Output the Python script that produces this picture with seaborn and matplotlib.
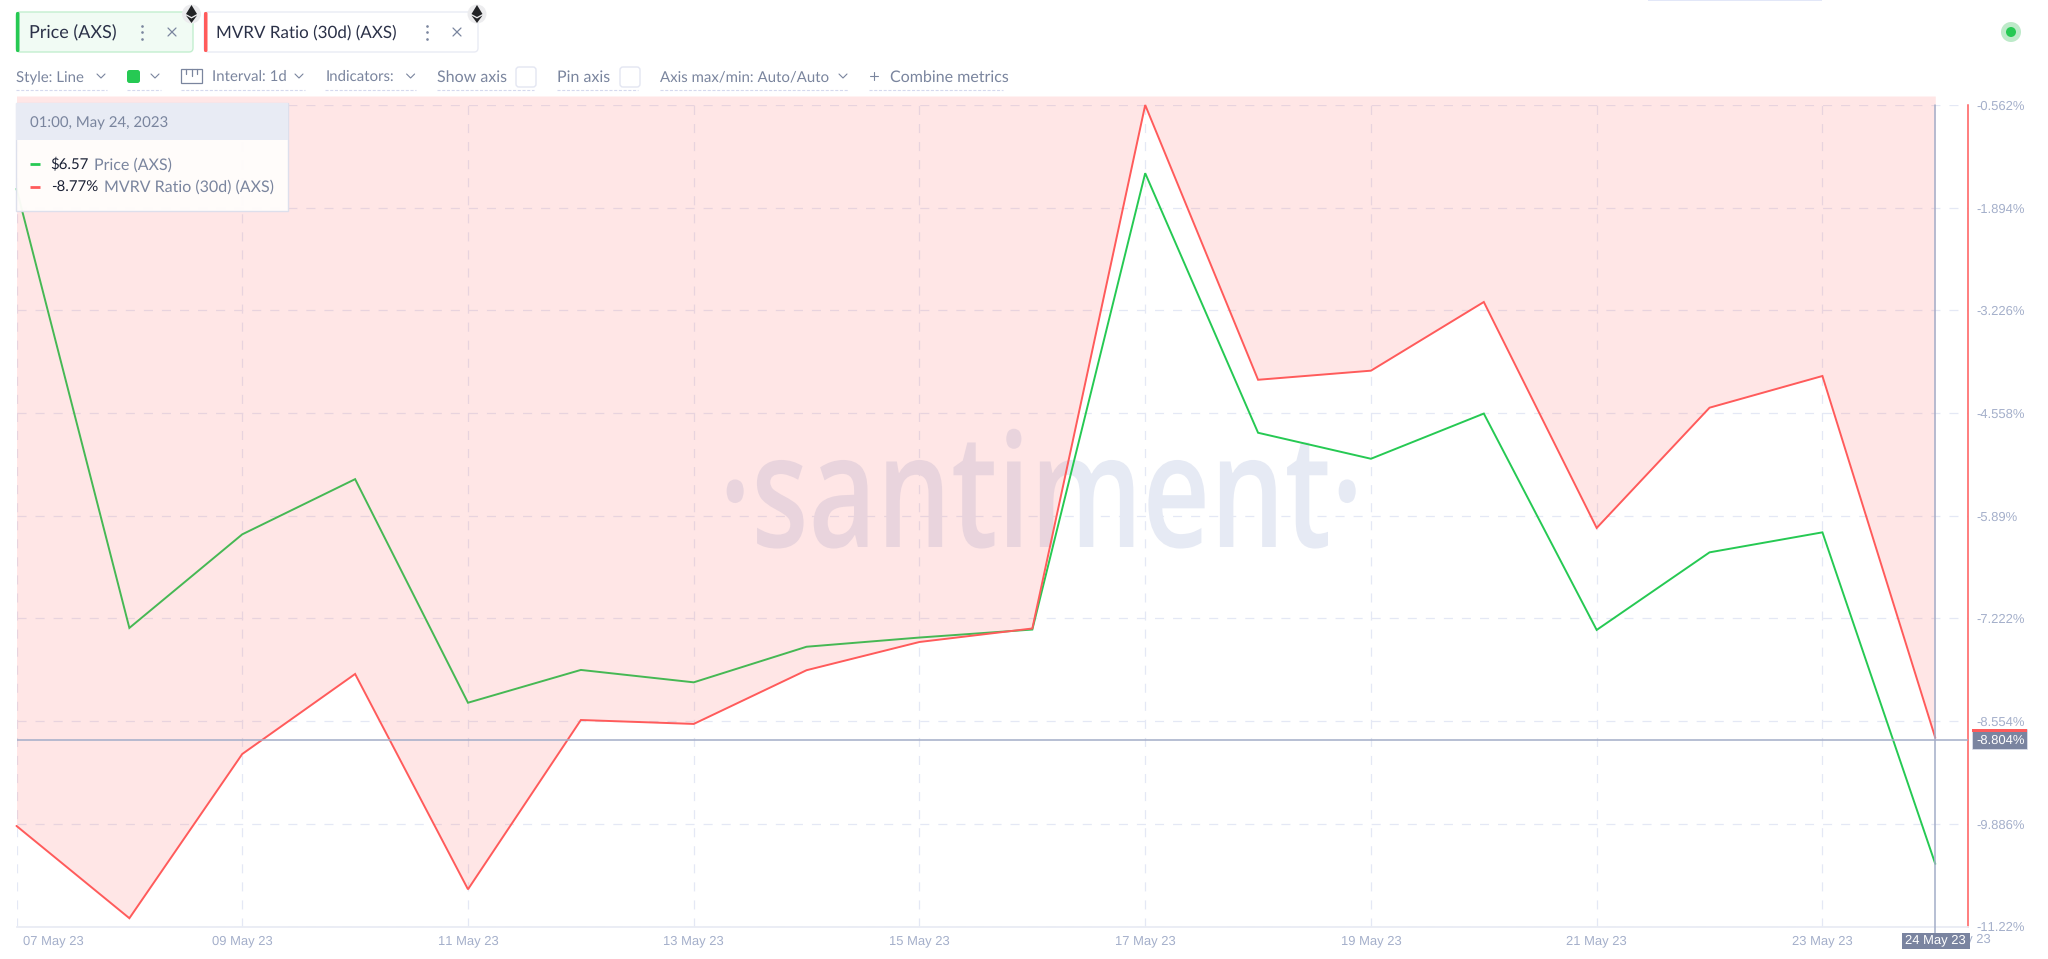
import pandas as pd
import numpy as np
import matplotlib
matplotlib.use("Agg")
import matplotlib.pyplot as plt
import matplotlib.patheffects as pe
from matplotlib import font_manager as fm
from matplotlib.patches import Rectangle, FancyBboxPatch, Circle, Polygon
from matplotlib.transforms import ScaledTranslation, Affine2D
import seaborn as sns

# ---------- data ----------
dates = pd.date_range("2023-05-07", "2023-05-24", freq="D")
mvrv = [-9.913, -11.11, -8.98, -7.942, -10.735, -8.539, -8.59, -7.893, -7.527,
        -7.352, -0.562, -4.126, -4.008, -3.117, -6.048, -4.488, -4.077, -8.77]
price = [8.258, 7.160, 7.394, 7.532, 6.973, 7.055, 7.024, 7.113, 7.136,
         7.156, 8.297, 7.648, 7.583, 7.696, 7.155, 7.349, 7.399, 6.57]
ytick_vals = [-0.562, -1.894, -3.226, -4.558, -5.89, -7.222, -8.554, -9.886, -11.22]
ytick_labels = ["-0.562%", "-1.894%", "-3.226%", "-4.558%", "-5.89%", "-7.222%",
                "-8.554%", "-9.886%", "-11.22%"]
xtick_dates = pd.date_range("2023-05-07", "2023-05-23", freq="2D")
xtick_labels = [d.strftime("%d May 23") for d in xtick_dates]
cursor_value = -8.804
cursor_date = pd.Timestamp("2023-05-24")

GREEN, RED = "#26c953", "#ff5b5b"
GRID = "#e4e8f5"
AXISTXT = "#a4afca"
MUTED = "#7a859e"
DARK = "#1c2236"
BOX = "#7a84a0"
CROSS = "#a3adc8"

W, H = 2048, 959
sns.set_theme(style="white")
plt.rcParams["lines.scale_dashes"] = False
plt.rcParams["text.hinting"] = "no_hinting"
plt.rcParams["text.hinting_factor"] = 1
avail = {f.name for f in fm.fontManager.ttflist}
UI = "Lato" if "Lato" in avail else "Open Sans"
TICK = "Liberation Sans"
MARK = "Open Sans"

fig = plt.figure(figsize=(W / 100, H / 100), dpi=100, facecolor="white")
L, R, T, B = 16.5, 1967.7, 105.0, 926.7
px_per_day = 112.87
x0 = dates[0]
xlim = (x0, x0 + pd.Timedelta(days=(R - L) / px_per_day))
ylim = (-11.22, -0.562)
plot_rect = [L / W, 1 - B / H, (R - L) / W, (B - T) / H]

df = pd.DataFrame({"date": dates, "mvrv": mvrv, "price": price})

# layer 1: grid, ticks, axis lines
ax = fig.add_axes(plot_rect, zorder=0.2)
ax.set_xlim(*xlim)
ax.set_ylim(*ylim)
ax.set_xticks(xtick_dates, labels=xtick_labels)
ax.set_yticks(ytick_vals, labels=ytick_labels)
ax.yaxis.tick_right()
ax.grid(True, color=GRID, lw=0.9, ls=(0, (6.5, 6.5)))
ax.set_axisbelow(True)
ax.tick_params(axis="both", length=0, labelsize=9.2, labelcolor=AXISTXT)
ax.tick_params(axis="y", pad=6)
ax.tick_params(axis="x", pad=6)
for lab in ax.get_xticklabels() + ax.get_yticklabels():
    lab.set_fontfamily(TICK)
first = ax.get_xticklabels()[0]
first.set_ha("left")
first.set_transform(first.get_transform() + ScaledTranslation(6 / 100, 0, fig.dpi_scale_trans))
for s in ("top", "left"):
    ax.spines[s].set_visible(False)
ax.spines["right"].set_color(RED)
ax.spines["right"].set_linewidth(1.1)
ax.spines["bottom"].set_color("#e9ecf4")
ax.spines["bottom"].set_linewidth(1.3)

# layer 2: watermark
ui = fig.add_axes([0, 0, 1, 1], zorder=0.3)
ui.set_xlim(0, W)
ui.set_ylim(H, 0)
ui.axis("off")


class SqueezeX(pe.AbstractPathEffect):
    """Draw the text narrower, around a fixed pixel column."""

    def __init__(self, anchor, factor):
        super().__init__()
        self.anchor, self.factor = anchor, factor

    def draw_path(self, renderer, gc, tpath, affine, rgbFace=None):
        squeeze = Affine2D().translate(-self.anchor, 0).scale(self.factor, 1).translate(self.anchor, 0)
        renderer.draw_path(gc, tpath, affine + squeeze, rgbFace)


mark = ui.text(719, 547, "\u00b7santiment\u00b7", color="#e6eaf4", family=MARK, fontweight=600,
               ha="left", va="baseline", fontsize=114, zorder=1)
mark_w = mark.get_window_extent(fig.canvas.get_renderer()).width
mark.set_path_effects([SqueezeX(719, 643 / mark_w)])

# layer 3: price on its own hidden scale, below the fill
axp = fig.add_axes(plot_rect, zorder=0.4)
sns.lineplot(data=df, x="date", y="price", ax=axp, color=GREEN, lw=1.4, legend=False,
             clip_on=False, solid_joinstyle="miter")
axp.set_xlim(*xlim)
axp.set_ylim(6.413, 8.4675)
axp.axis("off")

# layer 4: fill and MVRV line
ax2 = fig.add_axes(plot_rect, zorder=0.5)
fill_top = -0.562 + (T - 96) / 77.1
ax2.fill_between(df["date"], df["mvrv"], fill_top, color=RED, alpha=0.15, lw=0, clip_on=False, zorder=1)
sns.lineplot(data=df, x="date", y="mvrv", ax=ax2, color=RED, lw=1.4, legend=False, zorder=2,
             clip_on=False, solid_joinstyle="miter")
ax2.axhline(cursor_value, color=CROSS, lw=1.1, zorder=3)
ax2.set_xlim(*xlim)
ax2.set_ylim(*ylim)
ax2.axis("off")

# layer 5: interface around the chart
top = fig.add_axes([0, 0, 1, 1], zorder=2)
top.set_xlim(0, W)
top.set_ylim(H, 0)
top.axis("off")


def fit_text(x0_, x1_, yc, s, color, family=UI, zorder=6):
    t = top.text(x0_, yc + 1, s, color=color, family=family, ha="left", va="center",
                 fontsize=10, zorder=zorder)
    w = t.get_window_extent(fig.canvas.get_renderer()).width
    t.set_fontsize(10 * (x1_ - x0_) / w)
    return t


# crosshair
cx_px = L + (cursor_date - x0).days * px_per_day
top.plot([cx_px] * 2, [T, 933], color=CROSS, lw=1.1, zorder=3)

# value and date boxes
top.text(1991, 939, "25 May 23", ha="right", va="center", color=AXISTXT, family=TICK, fontsize=9.2, zorder=3)
top.add_patch(Rectangle((1972, 729), 55, 19.5, fc=BOX, ec="#dfe3ee", lw=0.5, zorder=4))
top.add_patch(Rectangle((1972, 729), 55, 3, fc=RED, ec="none", zorder=5))
top.text(1976, 740.5, "-8.804%", ha="left", va="center", color="white", family=TICK, fontsize=9.2, zorder=6)
top.add_patch(Rectangle((1902, 932.5), 67.5, 16, fc=BOX, ec="none", zorder=4))
top.text(1935.5, 940, "24 May 23", ha="center", va="center", color="white", family=TICK, fontsize=9.2, zorder=6)

# tooltip
top.add_patch(Rectangle((16, 103), 272, 108, fc="#fffdfb", ec="#dcdfec", lw=1, alpha=0.96, zorder=6))
top.add_patch(Rectangle((16, 103), 272, 37, fc="#e8ebf4", ec="none", zorder=7))
fit_text(30, 170, 122, "01:00, May 24, 2023", MUTED, zorder=8)
for yy, c, v, x1v, lab, x0l, x1l in [
    (164, GREEN, "$6.57", 88.5, "Price (AXS)", 94, 173.5),
    (186.5, RED, "-8.77%", 99, "MVRV Ratio (30d) (AXS)", 104, 273.6),
]:
    top.plot([30, 40], [yy, yy], color=c, lw=2, zorder=8, solid_capstyle="butt")
    fit_text(50.7, x1v, yy, v, DARK, zorder=8)
    fit_text(x0l, x1l, yy, lab, MUTED, zorder=8)


# metric pills
def pill(x0_, x1_, bar, face, edge):
    top.add_patch(FancyBboxPatch((x0_, 12), x1_ - x0_, 40, boxstyle="round,pad=0,rounding_size=4",
                                 fc=face, ec=edge, lw=1, zorder=3))
    top.add_patch(FancyBboxPatch((x0_, 12), 3.5, 40, boxstyle="round,pad=0,rounding_size=1.5",
                                 fc=bar, ec="none", zorder=4))


def eth(cx):
    top.add_patch(Circle((cx, 14), 9.5, fc="#ececee", ec="none", zorder=5))
    top.add_patch(Polygon([(cx, 5), (cx + 5.5, 14), (cx, 17), (cx - 5.5, 14)], fc="#222326", ec="none", zorder=6))
    top.add_patch(Polygon([(cx, 18.5), (cx + 5.5, 15.5), (cx, 23), (cx - 5.5, 15.5)], fc="#222326", ec="none", zorder=6))


def kebab(cx, yc=32):
    top.plot([cx] * 3, [yc - 6.5, yc, yc + 6.5], ls="none", marker="o", ms=1.9, color=MUTED, mew=0, zorder=6)


def cross(cx, yc=32, r=4):
    top.plot([cx - r, cx + r], [yc - r, yc + r], color=MUTED, lw=0.9, zorder=6)
    top.plot([cx - r, cx + r], [yc + r, yc - r], color=MUTED, lw=0.9, zorder=6)


pill(16, 193, GREEN, "#f1fbf4", "#c3efcf")
pill(204, 478, RED, "#ffffff", "#e9ebf4")
fit_text(29, 116, 32, "Price (AXS)", "#2b3148")
fit_text(216, 402, 32, "MVRV Ratio (30d) (AXS)", "#2b3148")
kebab(141.5)
kebab(427)
cross(172)
cross(457)
eth(191.5)
eth(477)

# toolbar
Y = 76


def chevron(cx, yc=Y):
    top.plot([cx - 4, cx, cx + 4], [yc - 2, yc + 2, yc - 2], color=MUTED, lw=0.8, zorder=6)


fit_text(16, 86, Y, "Style: Line", MUTED)
chevron(101)
top.add_patch(FancyBboxPatch((127, 70), 13, 13, boxstyle="round,pad=0,rounding_size=2.5", fc=GREEN, ec="none", zorder=5))
chevron(155)
top.add_patch(Rectangle((181, 69), 21, 14, fc="white", ec=MUTED, lw=0.9, zorder=5))
for xx, yb in [(186, 74), (191.5, 76), (197, 74)]:
    top.plot([xx, xx], [69, yb], color=MUTED, lw=0.9, zorder=6)
fit_text(212, 286, Y, "Interval: 1d", MUTED)
chevron(299)
fit_text(325.5, 396, Y, "Indicators:", MUTED)
chevron(410.6)
fit_text(437, 506, Y, "Show axis", MUTED)
top.add_patch(FancyBboxPatch((516, 67), 20, 20, boxstyle="round,pad=0,rounding_size=3", fc="white", ec="#e3e6f2", lw=1, zorder=5))
fit_text(557, 609, Y, "Pin axis", MUTED)
top.add_patch(FancyBboxPatch((620, 67), 20, 20, boxstyle="round,pad=0,rounding_size=3", fc="white", ec="#e3e6f2", lw=1, zorder=5))
fit_text(660, 827, Y, "Axis max/min: Auto/Auto", MUTED)
chevron(843)
top.plot([870, 878], [Y, Y], color=MUTED, lw=0.8, zorder=6)
top.plot([874, 874], [Y - 4, Y + 4], color=MUTED, lw=0.8, zorder=6)
fit_text(889.5, 1007, Y, "Combine metrics", MUTED)
for a, b in [(16, 107), (127, 161), (181, 305), (325, 416), (437, 534), (557, 638), (660, 848), (869, 1003)]:
    top.plot([a, b], [90, 90], color="#d5d9ee", lw=0.8, ls=(0, (2.2, 1.2)), zorder=4)

# status dot and top strip
top.add_patch(Circle((2011, 32), 10, fc="#bdeac9", ec="none", zorder=5))
top.add_patch(Circle((2011, 32), 5, fc=GREEN, ec="none", zorder=6))
top.add_patch(Rectangle((1648, 0), 174, 1, fc="#e2e7f8", ec="none", zorder=5))

fig.savefig("out.png", dpi=100)
